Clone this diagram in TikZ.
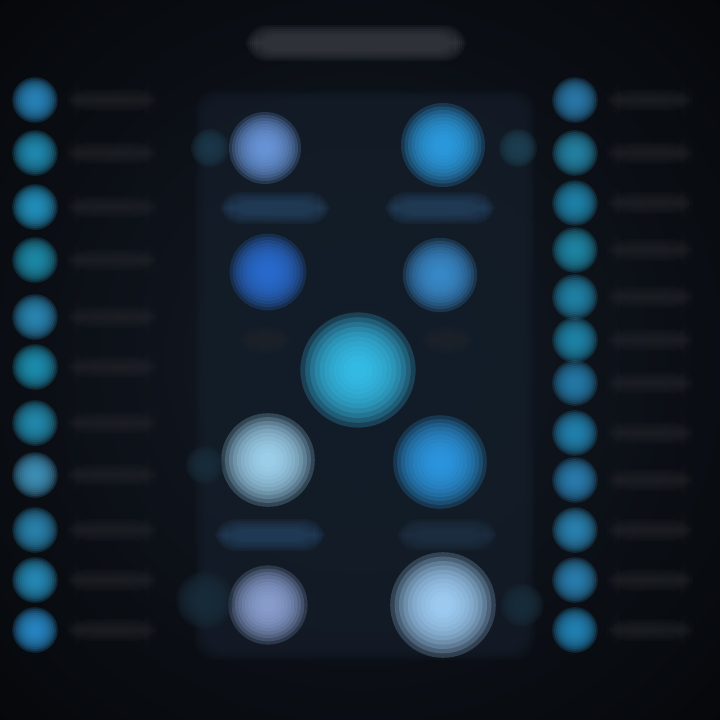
\documentclass[tikz,border=0pt]{standalone}
\usetikzlibrary{positioning}

\definecolor{bgdark}{HTML}{05070A}
\definecolor{bgmid}{HTML}{141B26}
\definecolor{panelbg}{HTML}{18222F}
\definecolor{titlegray}{HTML}{45484F}
\definecolor{bargray}{HTML}{24262B}

% blurred dot: name, position, colour, radius
\newcommand{\softdot}[4]{%
    \coordinate (#1) at (#2);
    \foreach \k in {0.2,0.3,...,1.25}
        \fill[#3, opacity=0.22] (#1) circle ({#4*\k});
}
% blurred bar: name, position, colour, width, height
\newcommand{\softbar}[5]{%
    \coordinate (#1) at (#2);
    \foreach \k in {0,2,...,10}
        \fill[#3, opacity=0.16, rounded corners=6pt]
            ([shift={(-#4/2-\k+5,-#5/2-\k+5)}]#1) rectangle ([shift={(#4/2+\k-5,#5/2+\k-5)}]#1);
}

\begin{document}
\begin{tikzpicture}[x=0.01cm, y=-0.01cm]

    % Background
    \path[use as bounding box] (0,0) rectangle (720,720);
    \clip (0,0) rectangle (720,720);
    \path[inner color=bgmid, outer color=bgdark] (-160,-160) rectangle (880,880);
    \softbar{panel}{365,375}{panelbg}{330}{560}

    % Title
    \softbar{title}{356,43}{titlegray}{210}{26}

    % Left column
    \foreach \i/\py/\c in {1/100/2A8AC2, 2/153/2290B8, 3/207/2496C4, 4/260/1F90AE,
        5/317/2C8CBA, 6/367/1E94B6, 7/423/2490B4, 8/475/4296BE, 9/530/2C88B4,
        10/580/2890BE, 11/630/2A8CCC} {
        \definecolor{tc}{HTML}{\c}
        \softdot{L\i}{35,\py}{tc}{19}
        \softbar{Ltxt\i}{112,\py}{bargray}{80}{12}
    }

    % Right column
    \foreach \i/\py/\c in {1/100/2C7EB0, 2/153/2688AA, 3/203/2088B0, 4/250/208CAC,
        5/297/2288AE, 6/340/208AB0, 7/383/2680B0, 8/433/2488B6, 9/480/2C82B6,
        10/530/2C88B8, 11/580/2C84B6, 12/630/2488BC} {
        \definecolor{tc}{HTML}{\c}
        \softdot{R\i}{575,\py}{tc}{19}
        \softbar{Rtxt\i}{650,\py}{bargray}{76}{12}
    }

    % Center bubbles
    \definecolor{ca}{HTML}{6E9CE2}
    \definecolor{cb}{HTML}{2EA2EA}
    \definecolor{cc}{HTML}{2C70DA}
    \definecolor{cd}{HTML}{3C90D2}
    \definecolor{ce}{HTML}{38C6F2}
    \definecolor{cf}{HTML}{A8DCF8}
    \definecolor{cg}{HTML}{2E9EEA}
    \definecolor{ch}{HTML}{92A8DA}
    \definecolor{ci}{HTML}{A8D8FF}
    \softdot{a1}{265,148}{ca}{30}
    \softdot{a2}{443,145}{cb}{35}
    \softdot{b1}{268,272}{cc}{32}
    \softdot{b2}{440,275}{cd}{31}
    \softdot{hub}{358,370}{ce}{48}
    \softdot{c1}{268,460}{cf}{39}
    \softdot{c2}{440,462}{cg}{39}
    \softdot{d1}{268,605}{ch}{33}
    \softdot{d2}{443,605}{ci}{44}

    % Faint side marks
    \definecolor{sa}{HTML}{1D3A4C}
    \definecolor{sb}{HTML}{1E4254}
    \definecolor{sc}{HTML}{1A2E3C}
    \softdot{a1s}{210,148}{sa}{16}
    \softdot{a2s}{518,148}{sb}{16}
    \softdot{c1s}{205,465}{sc}{16}
    \softdot{d1s}{205,600}{sc}{24}
    \softdot{d2s}{522,605}{sc}{18}

    % Label bars
    \definecolor{lbl}{HTML}{2A4C6E}
    \definecolor{lbldim}{HTML}{243850}
    \softbar{la}{275,208}{lbl}{100}{22}
    \softbar{lb}{440,208}{lbl}{100}{22}
    \softbar{lc}{270,535}{lbl}{100}{22}
    \softbar{ld}{447,535}{lbldim}{90}{22}
    \softbar{lh1}{265,340}{bargray}{40}{16}
    \softbar{lh2}{447,340}{bargray}{40}{16}

\end{tikzpicture}
\end{document}
